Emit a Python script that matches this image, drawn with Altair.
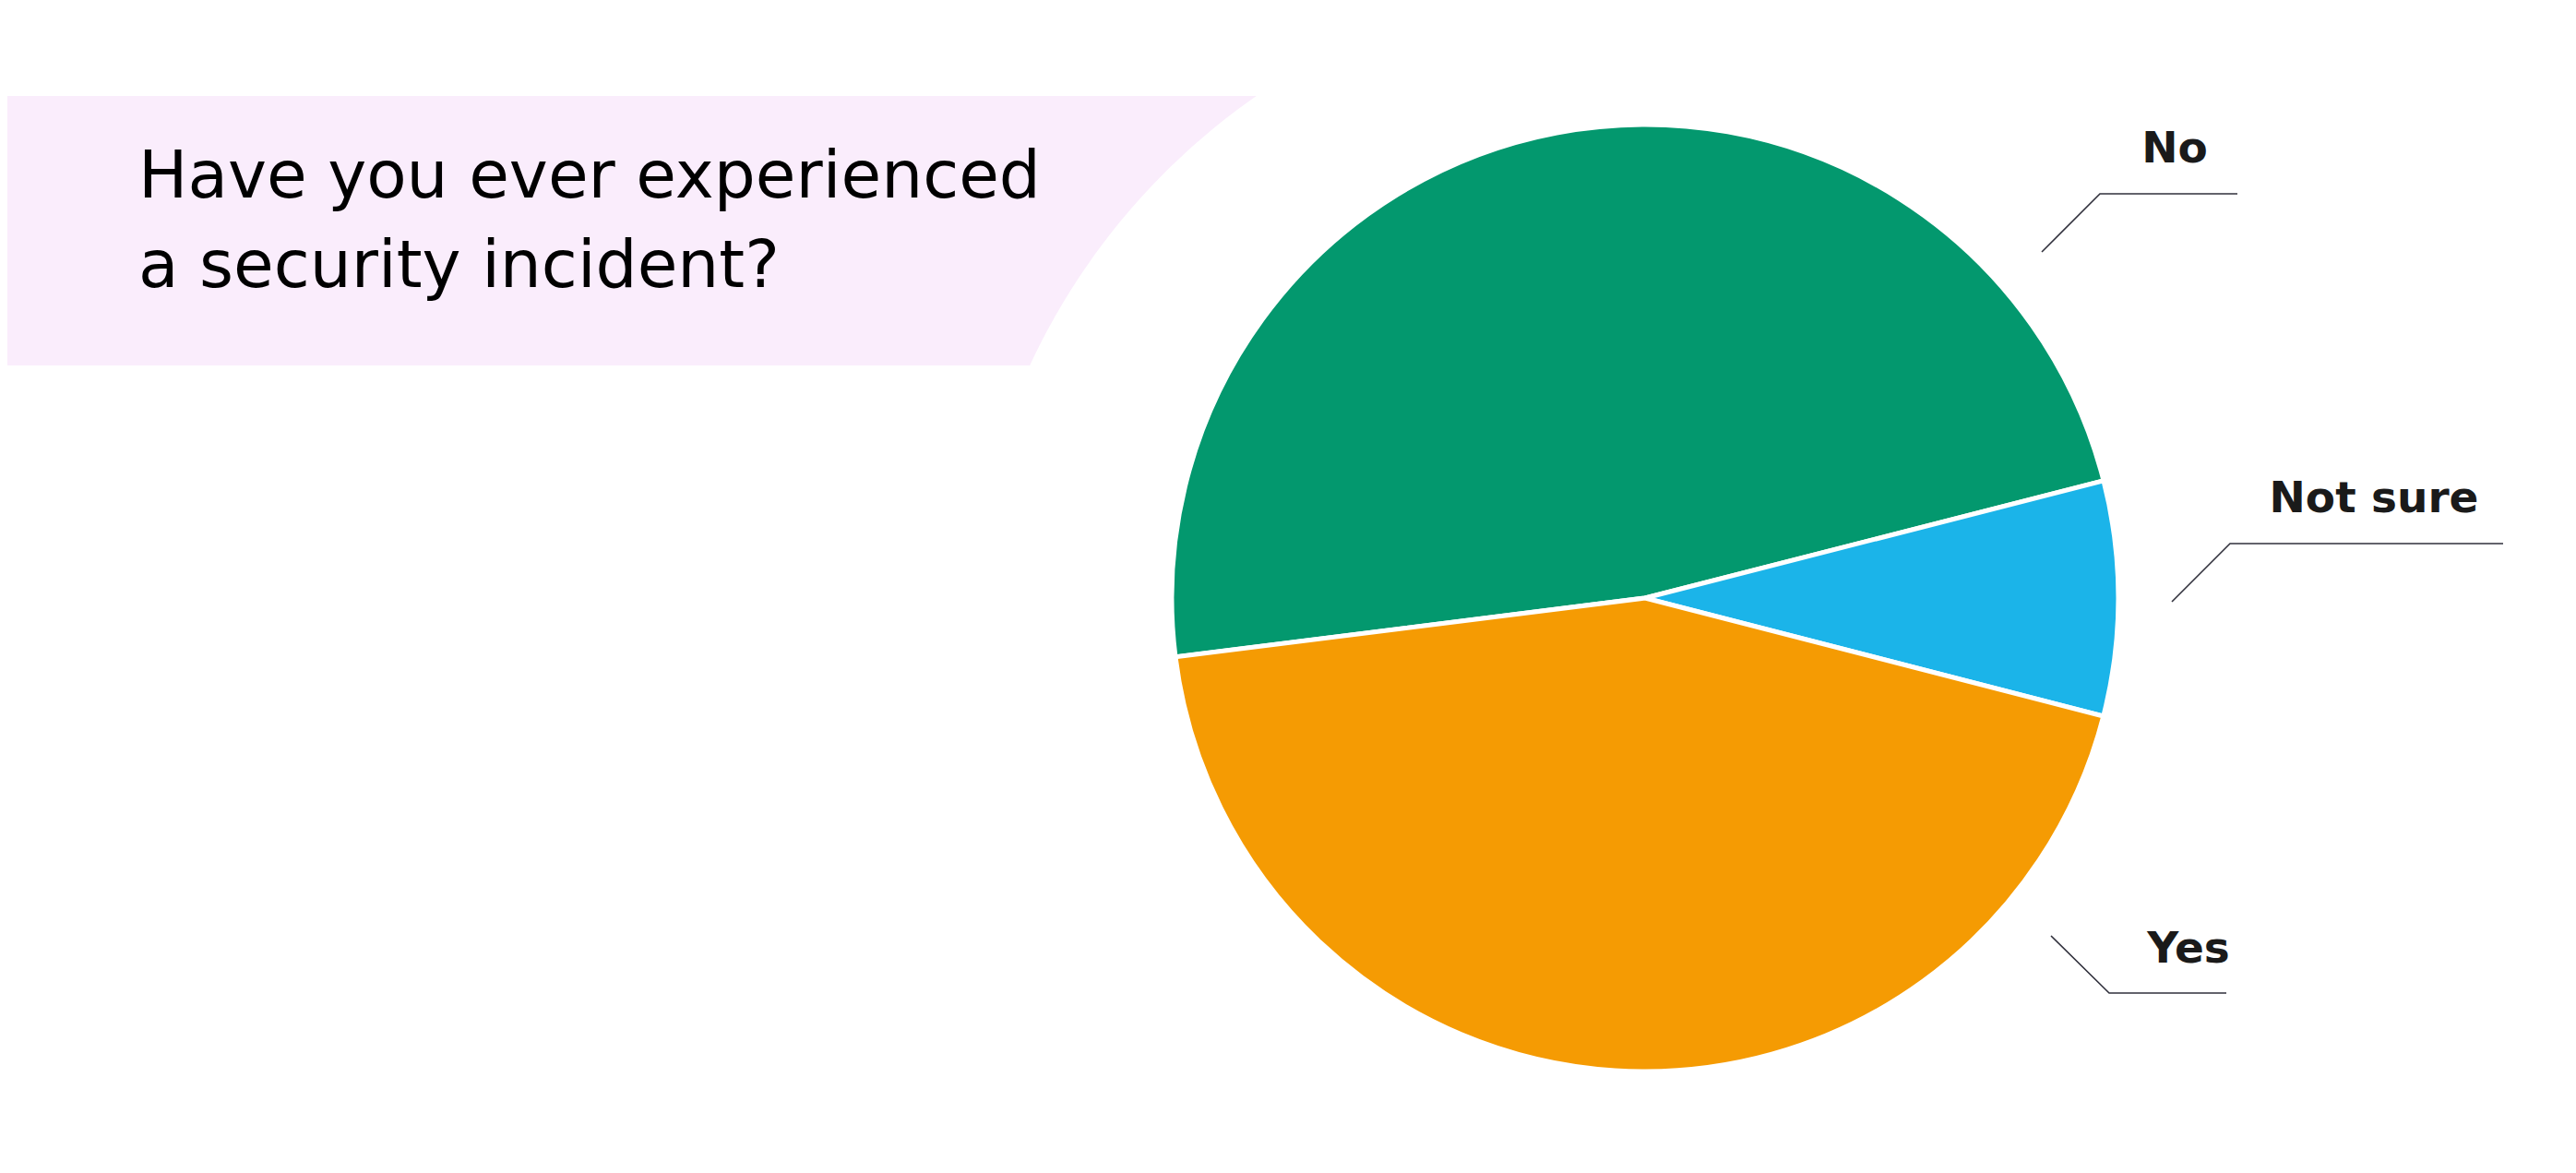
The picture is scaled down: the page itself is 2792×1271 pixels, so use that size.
import math
import altair as alt
import pandas as pd

# Survey answers and their shares (percent)
answers = ["No", "Not sure", "Yes"]
shares = [48, 8, 44]
title_lines = ["Have you ever experienced", "a security incident?"]

palette = ["#03986e", "#1bb4e9", "#f59b03"]

# Layout (pixels inside the chart)
W, H = 2770, 1250
pie_x, pie_y, pie_r = 1775, 640, 513
start = math.radians(-97.15)
cut_r = 726

pie_df = pd.DataFrame({"answer": answers, "share": shares, "idx": range(len(answers))})

# background band with a round white cut-out
band = alt.Chart(pd.DataFrame({"k": [0]})).mark_rect(color="#faedfc").encode(
    x=alt.value(0), x2=alt.value(1500), y=alt.value(96), y2=alt.value(388)
)
# vega circle symbols: diameter = sqrt(size)
cutout = alt.Chart(pd.DataFrame({"k": [0]})).mark_point(
    shape="circle", filled=True, opacity=1, color="white", size=(2 * cut_r) ** 2
).encode(x=alt.value(1767), y=alt.value(693))

pie = alt.Chart(pie_df).mark_arc(radius=pie_r, stroke="white", strokeWidth=5).encode(
    theta=alt.Theta("share:Q", stack=True, scale=alt.Scale(range=[start, start + 2 * math.pi])),
    color=alt.Color("answer:N", scale=alt.Scale(domain=answers, range=palette), legend=None),
    order=alt.Order("idx:Q"),
    x=alt.value(pie_x),
    y=alt.value(pie_y),
)

title = alt.Chart(pd.DataFrame({"k": [0]})).mark_text(
    text=title_lines, align="left", baseline="alphabetic", font="DejaVu Sans",
    fontSize=71, lineHeight=97, color="#000000"
).encode(x=alt.value(142), y=alt.value(206))

# label placement and leader lines
label_pos = pd.DataFrame({
    "answer": answers,
    "tx": [2349, 2565, 2364],
    "ty": [168, 547, 1035],
})
leader_pts = pd.DataFrame({
    "answer": ["No"] * 3 + ["Not sure"] * 3 + ["Yes"] * 3,
    "seq": [0, 1, 2] * 3,
    "px": [2205, 2268, 2417, 2346, 2409, 2705, 2215, 2278, 2405],
    "py": [265, 202, 202, 644, 581, 581, 1006, 1068, 1068],
})

labels = alt.Chart(label_pos).mark_text(
    align="center", baseline="alphabetic", font="DejaVu Sans", fontWeight="bold",
    fontSize=47, color="#1a1a1a"
).encode(
    x=alt.X("tx:Q", scale=None, axis=None),
    y=alt.Y("ty:Q", scale=None, axis=None),
    text="answer:N",
)

leaders = alt.Chart(leader_pts).mark_line(color="#30303c", strokeWidth=1.6).encode(
    x=alt.X("px:Q", scale=None, axis=None),
    y=alt.Y("py:Q", scale=None, axis=None),
    detail="answer:N",
    order="seq:Q",
)

chart = alt.layer(band, cutout, pie, title, leaders, labels).properties(
    width=W, height=H, autosize="none", padding=0
).configure_view(stroke=None)

chart.save("out.html", embed_options={"renderer": "svg", "actions": False})
